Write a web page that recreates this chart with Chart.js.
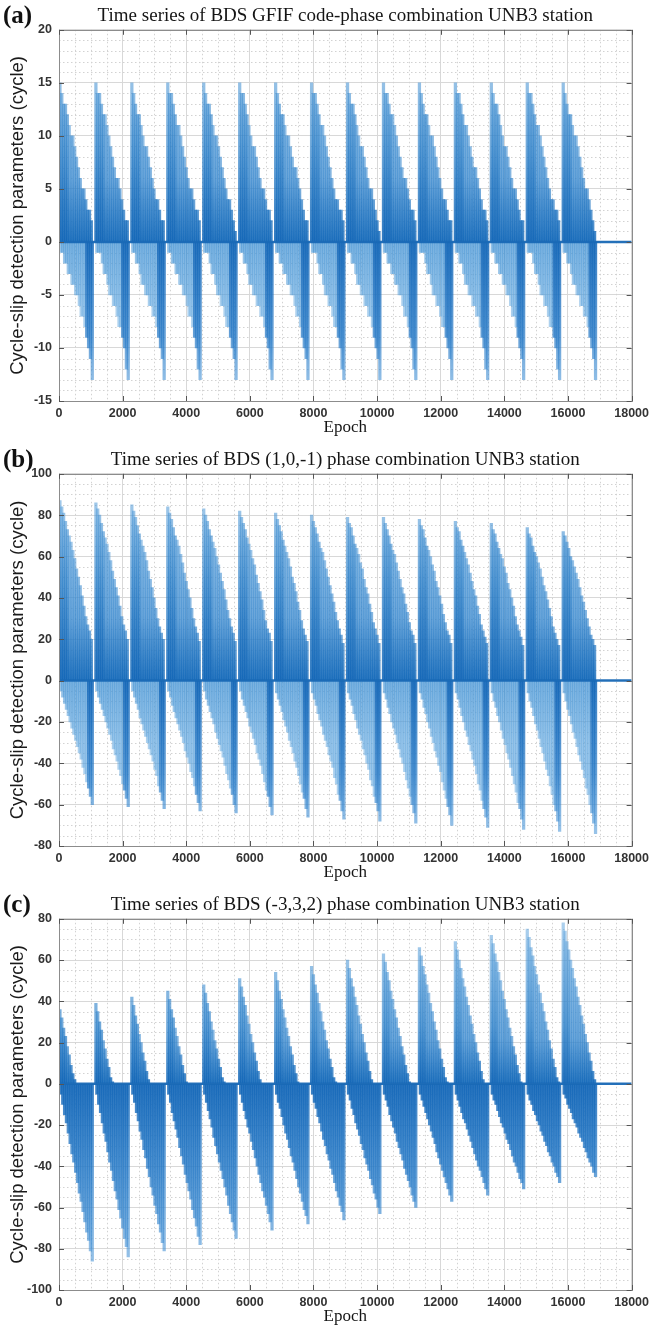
<!DOCTYPE html>
<html><head><meta charset="utf-8">
<script src="https://cdn.jsdelivr.net/npm/chart.js@4.4.1/dist/chart.umd.min.js"></script>
<style>
html,body{margin:0;padding:0;background:#fff;}
body{width:654px;height:1333px;position:relative;overflow:hidden;}
canvas{position:absolute;left:0;}
</style></head><body>
<canvas id="ca" width="654" height="444" style="top:0px"></canvas>
<canvas id="cb" width="654" height="445" style="top:444px"></canvas>
<canvas id="cc" width="654" height="444" style="top:889px"></canvas>
<script>
// ---------- data ----------
const panelLabels = ['(a)', '(b)', '(c)'];
const panelTitles = [
  'Time series of BDS GFIF code-phase combination UNB3 station',
  'Time series of BDS (1,0,-1) phase combination UNB3 station',
  'Time series of BDS (-3,3,2) phase combination UNB3 station'
];
const yAxisTitle = 'Cycle-slip detection parameters (cycle)';
const xAxisTitle = 'Epoch';
const epochMin = 0, epochMax = 18000, epochStep = 2000;
const yMinA = -15, yMaxA = 20, yStepA = 5;
const yMinB = -80, yMaxB = 100, yStepB = 20;
const yMinC = -100, yMaxC = 80, yStepC = 20;

// epoch at which each of the 15 sawtooth cycles starts
const cycleStarts = [30, 1160, 2290, 3420, 4550, 5680, 6810, 7940, 9070, 10200, 11330, 12460, 13590, 14720, 15850];
// epochs (inside a cycle) of the sampled positive / negative spikes
const posOffsets = [0, 58, 116, 174, 232, 290, 348, 406, 464, 522, 580, 638, 696, 754, 812, 870, 928, 986];
const negOffsets = [30, 88, 146, 204, 262, 320, 378, 436, 494, 552, 610, 668, 726, 784, 842, 900, 958, 1016];

// (a) GFIF code-phase
const aPos = [
  [15,14,13,13,12,11,10,10,9,8,7,6,5,5,4,3,3,2],
  [15,14,14,13,12,12,11,10,9,8,7,6,6,5,4,3,2,2],
  [15,14,13,12,12,11,10,9,9,8,7,6,5,4,4,3,2,2],
  [15,14,14,13,12,11,11,10,9,8,7,6,5,5,4,3,3,2],
  [15,14,13,13,12,11,10,10,9,8,7,6,5,4,4,3,2,1],
  [15,14,14,13,12,11,10,9,9,8,7,6,5,5,4,3,3,2],
  [15,14,13,12,12,11,10,10,9,8,7,7,6,5,4,3,2,2],
  [15,14,14,13,12,11,11,10,9,8,7,6,5,4,4,3,3,2],
  [15,14,13,13,12,11,10,9,9,8,7,6,5,5,4,3,2,1],
  [15,14,14,13,12,12,11,10,9,8,7,6,6,5,4,3,3,2],
  [15,14,13,12,12,11,10,10,9,8,7,6,5,4,4,3,2,2],
  [15,14,14,13,12,11,11,10,9,8,7,7,6,5,4,3,3,2],
  [15,14,13,13,12,11,10,9,9,8,7,6,5,5,4,3,2,2],
  [15,14,14,13,12,11,11,10,9,8,7,6,5,4,4,3,3,2],
  [15,14,13,12,12,11,10,10,9,8,7,6,5,5,4,3,2,1]
];
const aNeg = [
  [-1,-1,-2,-2,-3,-3,-4,-4,-5,-5,-6,-7,-7,-8,-9,-10,-11,-13],
  [-1,-1,-1,-2,-3,-3,-4,-5,-5,-6,-6,-7,-8,-8,-9,-10,-12,-13],
  [-1,-1,-2,-2,-3,-4,-4,-5,-5,-6,-6,-7,-7,-8,-9,-10,-11,-13],
  [-1,-1,-2,-2,-3,-3,-4,-4,-5,-5,-6,-7,-7,-8,-9,-10,-12,-13],
  [-1,-1,-1,-2,-3,-3,-4,-5,-5,-6,-6,-7,-8,-8,-9,-10,-11,-13],
  [-1,-1,-2,-2,-3,-4,-4,-5,-5,-6,-6,-7,-7,-8,-9,-10,-12,-13],
  [-1,-1,-2,-2,-3,-3,-4,-4,-5,-5,-6,-7,-7,-8,-9,-10,-11,-13],
  [-1,-1,-1,-2,-3,-3,-4,-5,-5,-6,-6,-7,-8,-8,-9,-10,-12,-13],
  [-1,-1,-2,-2,-3,-4,-4,-5,-5,-6,-6,-7,-7,-8,-9,-10,-11,-13],
  [-1,-1,-2,-2,-3,-3,-4,-4,-5,-5,-6,-7,-7,-8,-9,-10,-12,-13],
  [-1,-1,-1,-2,-3,-3,-4,-5,-5,-6,-6,-7,-8,-8,-9,-10,-11,-13],
  [-1,-1,-2,-2,-3,-4,-4,-5,-5,-6,-6,-7,-7,-8,-9,-10,-12,-13],
  [-1,-1,-2,-2,-3,-3,-4,-4,-5,-5,-6,-7,-7,-8,-9,-10,-11,-13],
  [-1,-1,-1,-2,-3,-3,-4,-5,-5,-6,-6,-7,-8,-8,-9,-10,-12,-13],
  [-1,-1,-2,-2,-3,-4,-4,-5,-5,-6,-6,-7,-7,-8,-9,-10,-11,-13]
];

// (b) (1,0,-1) phase
const bPos = [
  [87,84,81,77,73,70,67,63,59,54,50,46,41,36,31,27,24,20],
  [86,83,80,76,72,69,66,62,58,53,49,45,41,36,31,27,24,20],
  [85,82,79,75,71,68,65,62,58,53,49,45,40,35,30,26,23,20],
  [84,81,78,74,70,68,65,61,57,52,48,44,40,35,30,26,23,19],
  [83,80,77,73,70,67,64,60,56,52,48,44,39,34,30,26,23,19],
  [82,79,76,73,69,66,63,59,56,51,47,43,39,34,29,25,23,19],
  [81,78,75,72,68,65,62,59,55,50,47,43,38,34,29,25,22,19],
  [80,77,74,71,67,64,62,58,54,50,46,42,38,33,29,25,22,18],
  [79,76,74,70,66,64,61,57,54,49,45,42,37,33,28,25,22,18],
  [79,76,73,70,66,63,61,57,53,49,45,42,37,33,28,24,22,18],
  [78,75,73,69,65,63,60,56,53,48,45,41,37,32,28,24,22,18],
  [77,74,72,68,65,62,59,56,52,48,44,41,36,32,27,24,21,18],
  [76,73,71,67,64,61,59,55,52,47,44,40,36,31,27,24,21,17],
  [74,71,69,65,62,60,57,54,50,46,43,39,35,31,26,23,20,17],
  [72,70,67,64,60,58,55,52,49,45,41,38,34,30,26,22,20,17]
];
const bNeg = [
  [-5,-8,-11,-14,-17,-20,-23,-26,-29,-32,-35,-38,-42,-45,-49,-52,-56,-60],
  [-5,-8,-11,-14,-17,-20,-23,-26,-29,-33,-36,-39,-43,-46,-50,-53,-57,-61],
  [-5,-8,-11,-14,-18,-21,-24,-27,-30,-33,-36,-39,-43,-46,-51,-54,-58,-62],
  [-5,-8,-12,-15,-18,-21,-24,-27,-30,-34,-37,-40,-44,-47,-51,-55,-59,-63],
  [-5,-9,-12,-15,-18,-21,-25,-28,-31,-34,-37,-41,-45,-48,-52,-55,-60,-64],
  [-5,-9,-12,-15,-18,-22,-25,-28,-31,-35,-38,-41,-45,-49,-53,-56,-61,-65],
  [-6,-9,-12,-15,-19,-22,-25,-29,-32,-35,-39,-42,-46,-50,-54,-57,-62,-66],
  [-6,-9,-12,-16,-19,-22,-26,-29,-32,-36,-39,-42,-47,-50,-55,-58,-63,-67],
  [-6,-9,-12,-16,-19,-23,-26,-29,-33,-36,-40,-43,-48,-51,-56,-59,-63,-68],
  [-6,-9,-13,-16,-20,-23,-26,-30,-33,-37,-40,-44,-48,-52,-56,-60,-64,-69],
  [-6,-9,-13,-16,-20,-23,-27,-30,-34,-37,-41,-44,-49,-53,-57,-61,-65,-70],
  [-6,-9,-13,-17,-20,-24,-27,-31,-34,-38,-41,-45,-50,-53,-58,-62,-66,-71],
  [-6,-10,-13,-17,-20,-24,-28,-31,-35,-38,-42,-46,-50,-54,-59,-62,-67,-72],
  [-6,-10,-13,-17,-21,-24,-28,-32,-35,-39,-43,-46,-51,-55,-60,-63,-68,-73],
  [-6,-10,-14,-17,-21,-25,-28,-32,-36,-39,-43,-47,-52,-55,-60,-64,-69,-74]
];

// (c) (-3,3,2) phase
const cPos = [
  [36,32,27,23,18,14,9,5,2,0,0,0,0,0,0,0,0,0],
  [39,35,30,26,21,17,12,8,3,1,0,0,0,0,0,0,0,0],
  [42,38,33,29,24,20,15,11,6,2,0,0,0,0,0,0,0,0],
  [45,41,36,32,27,23,18,14,9,5,1,0,0,0,0,0,0,0],
  [48,44,39,35,30,26,21,17,12,8,3,1,0,0,0,0,0,0],
  [51,47,42,38,33,29,24,20,15,11,6,2,0,0,0,0,0,0],
  [54,50,45,41,36,32,27,23,18,14,9,5,1,0,0,0,0,0],
  [57,53,48,44,39,35,30,26,21,17,12,8,3,1,0,0,0,0],
  [60,56,51,47,42,38,33,29,24,20,15,11,6,2,0,0,0,0],
  [63,59,54,50,45,41,36,32,27,23,18,14,9,5,1,0,0,0],
  [66,62,57,53,48,44,39,35,30,26,21,17,12,8,3,1,0,0],
  [69,65,60,56,51,47,42,38,33,29,24,20,15,11,6,2,0,0],
  [72,68,63,59,54,50,45,41,36,32,27,23,18,14,9,5,1,0],
  [75,71,66,62,57,53,48,44,39,35,30,26,21,17,12,8,3,1],
  [78,74,69,65,60,56,51,47,42,38,33,29,24,20,15,11,6,2]
];
const cNeg = [
  [-5,-10,-15,-19,-24,-29,-34,-38,-43,-48,-53,-57,-62,-67,-72,-76,-81,-86],
  [-5,-10,-14,-19,-24,-28,-33,-38,-42,-47,-52,-56,-61,-65,-70,-75,-79,-84],
  [-5,-9,-14,-18,-23,-27,-32,-36,-41,-45,-50,-54,-59,-63,-68,-72,-77,-81],
  [-5,-9,-14,-18,-22,-26,-31,-35,-39,-44,-48,-52,-56,-61,-65,-69,-74,-78],
  [-5,-9,-13,-17,-21,-26,-30,-34,-38,-42,-46,-50,-54,-59,-63,-67,-71,-75],
  [-5,-9,-13,-17,-21,-24,-28,-32,-36,-40,-44,-48,-52,-55,-59,-63,-67,-71],
  [-5,-9,-12,-16,-20,-24,-27,-31,-35,-38,-42,-46,-50,-53,-57,-61,-64,-68],
  [-5,-9,-12,-16,-19,-23,-27,-30,-34,-37,-41,-44,-48,-52,-55,-59,-62,-66],
  [-5,-8,-12,-15,-19,-22,-25,-29,-32,-36,-39,-42,-46,-49,-53,-56,-60,-63],
  [-5,-8,-11,-15,-18,-21,-24,-28,-31,-34,-37,-41,-44,-47,-50,-54,-57,-60],
  [-5,-8,-11,-14,-17,-20,-23,-26,-29,-33,-36,-39,-42,-45,-48,-51,-54,-57],
  [-5,-8,-11,-14,-17,-19,-22,-25,-28,-31,-34,-37,-40,-42,-45,-48,-51,-54],
  [-5,-8,-10,-13,-16,-19,-21,-24,-27,-29,-32,-35,-38,-40,-43,-46,-48,-51],
  [-5,-8,-10,-13,-15,-18,-20,-23,-25,-28,-30,-33,-35,-38,-40,-43,-45,-48],
  [-5,-7,-10,-12,-14,-17,-19,-21,-24,-26,-28,-31,-33,-36,-38,-40,-43,-45]
];

// flat residual line along zero (under all cycles and after the last one)
const zeroLineEpochs = [0, 18000];
const zeroLineValues = [0, 0];

// ---------- building the chart ----------
function spikePoints(pos, neg) {
  const pts = [];
  cycleStarts.forEach((s, c) => {
    posOffsets.forEach((o, i) => { if (pos[c][i] !== 0) pts.push({x: s + o, y: pos[c][i], k: i}); });
    negOffsets.forEach((o, i) => { if (neg[c][i] !== 0) pts.push({x: s + o, y: neg[c][i], k: i}); });
  });
  pts.sort((p, q) => p.x - q.x);
  return pts;
}

// style: vertical colour gradients (dense parts of the record look darker)
function makeShade(st) {
  const cache = {};
  function grad(ch, dense) {
    const y = ch.scales.y;
    const top = y.getPixelForValue(y.max), bot = y.getPixelForValue(y.min);
    const key = top + '_' + bot + '_' + dense;
    if (cache[key]) return cache[key];
    const f = v => Math.max(0, Math.min(1, (y.getPixelForValue(v) - top) / (bot - top)));
    const g = ch.ctx.createLinearGradient(0, top, 0, bot);
    const z = f(0);
    g.addColorStop(0, 'rgba(95,165,222,0.5)');
    if (dense) {
      g.addColorStop(f(st.hiDense), 'rgba(45,128,200,0.68)');
      g.addColorStop(z, 'rgba(18,102,183,0.88)');
      g.addColorStop(Math.min(z + 0.002, 1), 'rgba(20,103,184,0.86)');
      g.addColorStop(f(st.loDense), 'rgba(40,122,198,0.72)');
      g.addColorStop(1, 'rgba(85,158,220,0.55)');
    } else {
      g.addColorStop(f(st.hi), 'rgba(55,135,205,0.62)');
      g.addColorStop(z, 'rgba(20,105,185,0.85)');
      g.addColorStop(Math.min(z + 0.002, 1), 'rgba(70,148,212,0.6)');
      g.addColorStop(f(st.lo), 'rgba(90,162,220,0.5)');
      g.addColorStop(1, 'rgba(100,168,224,0.5)');
    }
    cache[key] = g;
    return g;
  }
  return (ctx) => {
    const ch = ctx.chart;
    if (!ch.chartArea || !ch.scales.y) return 'rgba(40,125,200,0.6)';
    const r = ctx.raw || {};
    const dense = r.y < 0 ? (st.allNegDense || r.k >= st.negDenseFrom) : (r.k <= st.posDenseTo);
    return grad(ch, dense);
  };
}

const decor = {
  id: 'decor',
  beforeDatasetsDraw(chart, args, o) {
    const {ctx, chartArea: a, scales: {x, y}} = chart;
    ctx.save();
    ctx.strokeStyle = '#d2d2d2';
    ctx.lineWidth = 1;
    ctx.setLineDash([1.5, 2.5]);
    ctx.beginPath();
    for (let v = x.min; v <= x.max; v += o.xMinor) {
      if (v % o.xMajor === 0) continue;
      const p = Math.round(x.getPixelForValue(v)) + 0.5;
      ctx.moveTo(p, a.top); ctx.lineTo(p, a.bottom);
    }
    for (let v = y.min; v <= y.max; v += o.yMinor) {
      if (v % o.yMajor === 0) continue;
      const p = Math.round(y.getPixelForValue(v)) + 0.5;
      ctx.moveTo(a.left, p); ctx.lineTo(a.right, p);
    }
    ctx.stroke();
    ctx.restore();
  },
  afterDraw(chart, args, o) {
    const {ctx, chartArea: a, scales: {x, y}} = chart;
    ctx.save();
    ctx.strokeStyle = '#8c8c8c';
    ctx.lineWidth = 1;
    ctx.strokeRect(Math.round(a.left) + 0.5, Math.round(a.top) + 0.5,
                   Math.round(a.right - a.left), Math.round(a.bottom - a.top));
    ctx.strokeStyle = '#555';
    ctx.beginPath();
    for (let v = x.min; v <= x.max; v += o.xMajor) {
      const p = Math.round(x.getPixelForValue(v)) + 0.5;
      ctx.moveTo(p, a.bottom); ctx.lineTo(p, a.bottom - 5);
      ctx.moveTo(p, a.top); ctx.lineTo(p, a.top + 5);
    }
    for (let v = y.min; v <= y.max; v += o.yMajor) {
      const p = Math.round(y.getPixelForValue(v)) + 0.5;
      ctx.moveTo(a.left, p); ctx.lineTo(a.left + 5, p);
      ctx.moveTo(a.right, p); ctx.lineTo(a.right - 5, p);
    }
    ctx.stroke();
    ctx.fillStyle = '#111';
    ctx.font = 'bold 25px "Liberation Serif", "Times New Roman", serif';
    ctx.textBaseline = 'middle';
    ctx.textAlign = 'left';
    ctx.fillText(o.label, 3, 17);
    ctx.restore();
  }
};

const tickFont = {family: '"Liberation Sans", Arial, sans-serif', size: 12.5, weight: 'bold'};

function makeChart(id, label, title, pos, neg, yMin, yMax, yStep, yMinor, st) {
  return new Chart(document.getElementById(id), {
    type: 'bar',
    data: {
      datasets: [
        {
          type: 'line',
          data: zeroLineEpochs.map((e, i) => ({x: e, y: zeroLineValues[i]})),
          borderColor: 'rgba(25,105,182,0.95)',
          borderWidth: 2.5,
          pointRadius: 0,
          order: 1
        },
        {
          type: 'bar',
          data: spikePoints(pos, neg),
          backgroundColor: makeShade(st),
          borderWidth: 0,
          barThickness: 2.6,
          grouped: false,
          order: 2
        }
      ]
    },
    options: {
      responsive: false,
      animation: false,
      devicePixelRatio: 1,
      layout: {padding: {left: 0, right: 17, top: 0, bottom: 0}},
      plugins: {
        legend: {display: false},
        tooltip: {enabled: false},
        title: {
          display: true, text: title, fullSize: false,
          color: '#151515',
          font: {family: '"Liberation Serif", "Times New Roman", serif', size: 19, weight: 'normal'},
          padding: {top: 5, bottom: 2}
        },
        decor: {label: label, xMinor: 500, xMajor: epochStep, yMinor: yMinor, yMajor: yStep}
      },
      scales: {
        x: {
          type: 'linear', min: epochMin, max: epochMax, offset: false,
          ticks: {stepSize: epochStep, autoSkip: false, maxRotation: 0, padding: 5,
                  font: tickFont, color: '#333', callback: v => String(v)},
          grid: {color: '#d8d8d8', drawTicks: false, offset: false},
          border: {display: false},
          title: {display: true, text: xAxisTitle, color: '#151515',
                  font: {family: '"Liberation Serif", "Times New Roman", serif', size: 17},
                  padding: {top: 0, bottom: 6}},
          afterFit: s => { s.height = 43; }
        },
        y: {
          min: yMin, max: yMax,
          ticks: {stepSize: yStep, autoSkip: false, padding: 7, font: tickFont, color: '#333',
                  callback: v => String(v)},
          grid: {color: '#d8d8d8', drawTicks: false},
          border: {display: false},
          title: {display: true, text: yAxisTitle, color: '#1a1a1a',
                  font: {family: '"Liberation Sans", Arial, sans-serif', size: 18.5},
                  padding: {top: 7, bottom: 0}},
          afterFit: s => { s.width = 59; }
        }
      }
    },
    plugins: [decor]
  });
}

makeChart('ca', panelLabels[0], panelTitles[0], aPos, aNeg, yMinA, yMaxA, yStepA, 1,
  {hi: 6, lo: -6, hiDense: 9, loDense: -9, posDenseTo: 4, negDenseFrom: 14, allNegDense: false});
makeChart('cb', panelLabels[1], panelTitles[1], bPos, bNeg, yMinB, yMaxB, yStepB, 5,
  {hi: 30, lo: -30, hiDense: 50, loDense: -45, posDenseTo: 4, negDenseFrom: 15, allNegDense: false});
makeChart('cc', panelLabels[2], panelTitles[2], cPos, cNeg, yMinC, yMaxC, yStepC, 5,
  {hi: 22, lo: -40, hiDense: 28, loDense: -40, posDenseTo: 3, negDenseFrom: 0, allNegDense: true});
</script>
</body></html>
